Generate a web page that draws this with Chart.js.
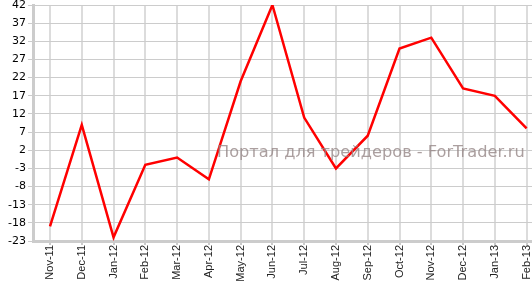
<!DOCTYPE html>
<html>
<head>
<meta charset="utf-8">
<script src="https://cdn.jsdelivr.net/npm/chart.js@4"></script>
<style>
  html, body { margin: 0; padding: 0; background: #fff; }
  #wrap { width: 532px; height: 282px; }
</style>
</head>
<body>
<div id="wrap"><canvas id="chart"></canvas></div>
<script>
const months = ["Nov-11", "Dec-11", "Jan-12", "Feb-12", "Mar-12", "Apr-12", "May-12", "Jun-12",
  "Jul-12", "Aug-12", "Sep-12", "Oct-12", "Nov-12", "Dec-12", "Jan-13", "Feb-13"];
const values = [-19, 9, -22, -2, 0, -6, 21, 42, 11, -3, 6, 30, 33, 19, 17, 8];
const yTicks = [-23, -18, -13, -8, -3, 2, 7, 12, 17, 22, 27, 32, 37, 42];
const watermark = "Портал для трейдеров - ForTrader.ru";

const watermarkPlugin = {
  id: "watermark",
  afterDatasetsDraw(chart) {
    const ctx = chart.ctx;
    ctx.save();
    ctx.font = "16px 'DejaVu Sans'";
    let w = ctx.measureText(watermark).width;
    const size = 16 * 308 / w;
    ctx.font = size + "px 'DejaVu Sans'";
    ctx.fillStyle = "rgba(150, 135, 135, 0.8)";
    ctx.textBaseline = "alphabetic";
    ctx.fillText(watermark, 217, 157);
    ctx.restore();
  }
};

document.addEventListener("DOMContentLoaded", function () {
  const ctx = document.getElementById("chart").getContext("2d");
  new Chart(ctx, {
    type: "line",
    data: {
      datasets: [{
        data: values.map((v, i) => ({ x: i, y: v })),
        borderColor: "#ff0000",
        borderWidth: 2.5,
        pointRadius: 0,
        tension: 0,
        fill: false,
      }],
    },
    options: {
      responsive: true,
      maintainAspectRatio: false,
      animation: false,
      layout: { padding: { top: 5, right: 0, left: 0, bottom: 0 } },
      plugins: { legend: { display: false }, tooltip: { enabled: false } },
      scales: {
        x: {
          type: "linear",
          min: -0.535,
          max: 15.17,
          afterBuildTicks: (scale) => { scale.ticks = months.map((m, i) => ({ value: i })); },
          afterFit: (scale) => {
            scale.height = 41;
            scale.paddingLeft = 0;
            scale.paddingRight = 0;
          },
          grid: { color: "#dcdcdc", lineWidth: 2, tickLength: 4, tickColor: "#cccccc" },
          border: { color: "#cccccc", width: 3 },
          ticks: {
            autoSkip: false,
            maxRotation: 90,
            minRotation: 90,
            padding: 0,
            color: "#222",
            font: { family: "'Liberation Sans', Arial", size: 11 },
            callback: (v) => months[v],
          },
        },
        y: {
          min: -23,
          max: 42,
          afterBuildTicks: (scale) => { scale.ticks = yTicks.map((t) => ({ value: t })); },
          afterFit: (scale) => {
            scale.width = 33;
            scale.paddingTop = 0;
            scale.paddingBottom = 0;
          },
          grid: { color: "#cccccc", lineWidth: 1, tickLength: 5, tickColor: "#cccccc" },
          border: { color: "#cccccc", width: 3 },
          ticks: {
            padding: 2,
            color: "#000",
            font: { family: "'DejaVu Sans', Verdana", size: 11 },
          },
        },
      },
    },
    plugins: [watermarkPlugin],
  });
});
</script>
</body>
</html>
